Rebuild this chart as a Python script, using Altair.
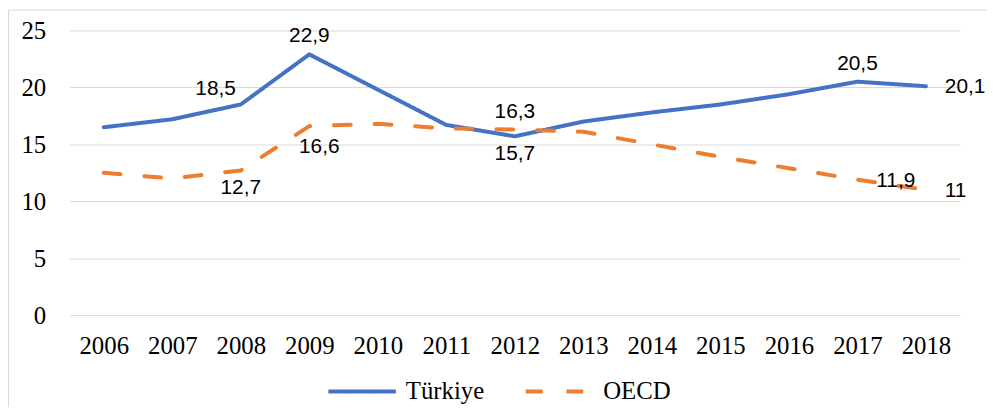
import altair as alt
import pandas as pd

years = ["2006", "2007", "2008", "2009", "2010", "2011", "2012",
         "2013", "2014", "2015", "2016", "2017", "2018"]
turkiye = [16.5, 17.2, 18.5, 22.9, 19.8, 16.7, 15.7, 17.0, 17.8, 18.5, 19.4, 20.5, 20.1]
oecd = [12.5, 12.0, 12.7, 16.6, 16.8, 16.4, 16.3, 16.1, 15.0, 13.9, 12.9, 11.9, 11.0]
series_names = ["Türkiye", "OECD"]
y_ticks = [0, 5, 10, 15, 20, 25]

# which points carry a data label, and where it sits
labels_turkiye = {"2008": "upleft", "2009": "above", "2012": "below", "2017": "above", "2018": "right"}
labels_oecd = {"2008": "below", "2009": "belowright", "2012": "above", "2017": "right", "2018": "right"}

rows = []
for name, vals in zip(series_names, [turkiye, oecd]):
    for y, v in zip(years, vals):
        rows.append({"year": y, "value": v, "series": name})
df = pd.DataFrame(rows)

lab_rows = []
for name, vals, lab in zip(series_names, [turkiye, oecd], [labels_turkiye, labels_oecd]):
    for y, v in zip(years, vals):
        if y in lab:
            lab_rows.append({"year": y, "value": v, "series": name,
                             "label": f"{v:g}".replace(".", ","), "pos": lab[y]})
lab_df = pd.DataFrame(lab_rows)

pos_styles = {
    "above": dict(align="center", dx=0, dy=-18),
    "below": dict(align="center", dx=0, dy=18),
    "belowright": dict(align="center", dx=10, dy=21),
    "upleft": dict(align="right", dx=-5, dy=-16),
    "right": dict(align="left", dx=19, dy=1),
}

x_enc = alt.X("year:O", title=None, sort=years,
              scale=alt.Scale(type="point", padding=0.5),
              axis=alt.Axis(labelAngle=0, labelFont="Liberation Serif", labelFontSize=25,
                            labelColor="#000000", labelPadding=19, ticks=False, tickSize=0,
                            domain=False, grid=False))
y_enc = alt.Y("value:Q", title=None,
              scale=alt.Scale(domain=[0, 25], nice=False, zero=True),
              axis=alt.Axis(values=y_ticks, labelFont="Liberation Serif", labelFontSize=25,
                            labelColor="#000000", labelPadding=24, ticks=False, tickSize=0,
                            domain=False, grid=True, gridColor="#d9d9d9", gridWidth=1))

legend_props = dict(orient="none", direction="horizontal",
                    legendX=259, legendY=328, padding=0,
                    symbolType="stroke", symbolSize=68 * 68,
                    symbolStrokeWidth=4, labelFont="Liberation Serif",
                    labelFontSize=25, labelColor="#000000",
                    labelOffset=8, columnPadding=33)

color_enc = alt.Color("series:N", title=None,
                      scale=alt.Scale(domain=series_names, range=["#4472C4", "#ED7D31"]),
                      legend=alt.Legend(**legend_props))
dash_enc = alt.StrokeDash("series:N", title=None,
                          scale=alt.Scale(domain=series_names, range=[[1, 0], [17, 24]]),
                          legend=alt.Legend(**legend_props))

base = alt.Chart(df)
line_t = base.transform_filter(alt.datum.series == series_names[0]).mark_line(
    strokeWidth=4, strokeCap="round", strokeJoin="round"
).encode(x=x_enc, y=y_enc, color=color_enc, strokeDash=dash_enc)
line_o = base.transform_filter(alt.datum.series == series_names[1]).mark_line(
    strokeWidth=4, strokeCap="round", strokeJoin="round"
).encode(x=x_enc, y=y_enc, color=color_enc, strokeDash=dash_enc)

text_layers = []
for pos, st in pos_styles.items():
    text_layers.append(
        alt.Chart(lab_df).transform_filter(alt.datum.pos == pos).mark_text(
            font="Liberation Sans", fontSize=21, color="#000000", baseline="middle", **st
        ).encode(x=alt.X("year:O", sort=years), y="value:Q", text="label:N")
    )

border = alt.Chart(pd.DataFrame({"a": [0]})).mark_rect(
    fillOpacity=0, stroke="#d9d9d9", strokeWidth=1
).encode(x=alt.value(-61.5), x2=alt.value(1000), y=alt.value(-20.5), y2=alt.value(500))

chart = alt.layer(border, line_t, line_o, *text_layers).properties(
    width=898, height=287,
    autosize=alt.AutoSizeParams(type="none"),
    padding={"left": 62, "top": 21, "right": 27, "bottom": 91},
).configure_view(stroke=None)

chart.save("out.html", embed_options={"renderer": "svg", "actions": False})
